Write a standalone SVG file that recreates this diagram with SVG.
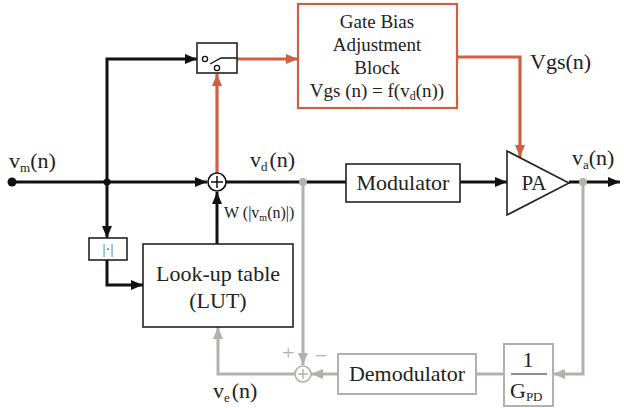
<svg xmlns="http://www.w3.org/2000/svg" width="624" height="408" viewBox="0 0 624 408">
<style>
.t{font-family:'Liberation Serif','DejaVu Serif','Noto Serif',Times,serif;fill:#222}
.box{fill:#fff;stroke:#222;stroke-width:1.6}
.gbox{fill:#fff;stroke:#b5b0ad;stroke-width:2}
.obox{fill:#fff;stroke:#cd6142;stroke-width:2.2}
.k{fill:none;stroke:#111;stroke-width:3}
.o{fill:none;stroke:#cd6142;stroke-width:3.2}
.g{fill:none;stroke:#b5b0ad;stroke-width:3}
</style>
<defs>
<marker id="ak" viewBox="0 0 12 10" refX="12" refY="5" markerWidth="12" markerHeight="10" markerUnits="userSpaceOnUse" orient="auto"><path d="M0,0 L12,5 L0,10 z" fill="#111"/></marker>
<marker id="ao" viewBox="0 0 12 10" refX="12" refY="5" markerWidth="12" markerHeight="10" markerUnits="userSpaceOnUse" orient="auto"><path d="M0,0 L12,5 L0,10 z" fill="#cd6142"/></marker>
<marker id="ag" viewBox="0 0 12 10" refX="12" refY="5" markerWidth="12" markerHeight="10" markerUnits="userSpaceOnUse" orient="auto"><path d="M0,0 L12,5 L0,10 z" fill="#b5b0ad"/></marker>
</defs>
<rect width="624" height="408" fill="#fff"/>
<g id="connectors">
<path class="k" d="M12,182 H207" marker-end="url(#ak)"/>
<path class="k" d="M107,182 V59 H197" marker-end="url(#ak)"/>
<path class="k" d="M107,182 V238" marker-end="url(#ak)"/>
<path class="k" d="M107,260 V285 H143" marker-end="url(#ak)"/>
<path class="k" d="M217,244 V192" marker-end="url(#ak)"/>
<path class="k" d="M226,182 H346"/>
<path class="k" d="M460,182 H507" marker-end="url(#ak)"/>
<path class="k" d="M569,182 H620" marker-end="url(#ak)"/>
<path class="o" d="M217,173 V74" marker-end="url(#ao)"/>
<path class="o" d="M237,59 H298" marker-end="url(#ao)"/>
<path class="o" d="M457,57 H520 V157" marker-end="url(#ao)"/>
<path class="g" d="M303,182 V365" marker-end="url(#ag)"/>
<path class="g" d="M583,182 V374 H553" marker-end="url(#ag)"/>
<path class="g" d="M504,374 H476"/>
<path class="g" d="M338,374 H311" marker-end="url(#ag)"/>
<path class="g" d="M295,374 H218 V327" marker-end="url(#ag)"/>
<circle cx="12" cy="182" r="4.5" fill="#111"/>
<circle cx="107" cy="182" r="3.5" fill="#111"/>
<circle cx="303" cy="182" r="4" fill="#b5b0ad"/>
<circle cx="583" cy="182" r="4" fill="#b5b0ad"/>
</g>
<g id="sum1">
<circle cx="217" cy="182" r="9" fill="#fff" stroke="#111" stroke-width="1.6"/>
<path d="M211,182 H223 M217,176 V188" stroke="#111" stroke-width="1.5"/>
</g>
<g id="switch">
<rect x="197" y="43" width="40" height="30" class="box"/>
<circle cx="205" cy="59" r="2.6" fill="#fff" stroke="#111" stroke-width="1.3"/>
<circle cx="217" cy="68" r="2.6" fill="#fff" stroke="#111" stroke-width="1.3"/>
<path d="M210,64 L221,58 H237" fill="none" stroke="#111" stroke-width="1.4"/>
</g>
<g id="gate">
<rect x="298" y="4" width="159" height="104" class="obox"/>
<text class="t" font-size="19" text-anchor="middle" x="377" y="28">Gate Bias</text>
<text class="t" font-size="19" text-anchor="middle" x="377" y="51">Adjustment</text>
<text class="t" font-size="19" text-anchor="middle" x="377" y="74">Block</text>
<text class="t" font-size="19" text-anchor="middle" x="377" y="97">Vgs (n) = f(v<tspan font-size="12" dy="3">d</tspan><tspan dy="-3">(n))</tspan></text>
</g>
<g id="abs">
<rect x="89" y="238" width="38" height="22" class="box" stroke-width="1.3"/>
<text class="t" font-size="15" text-anchor="middle" x="108" y="254" style="fill:#555">|·|</text>
</g>
<g id="lut">
<rect x="143" y="244" width="150" height="83" class="box"/>
<text class="t" font-size="22" text-anchor="middle" x="218" y="281">Look-up table</text>
<text class="t" font-size="22" text-anchor="middle" x="218" y="308">(LUT)</text>
</g>
<g id="modulator">
<rect x="346" y="164" width="114" height="38" class="box"/>
<text class="t" font-size="22" text-anchor="middle" x="403" y="190">Modulator</text>
</g>
<g id="pa">
<path d="M507,151 L569,183 L507,215 z" class="box"/>
<text class="t" font-size="21" text-anchor="middle" x="534" y="190">PA</text>
</g>
<g id="sum2">
<circle cx="303" cy="374" r="8" fill="#fff" stroke="#b5b0ad" stroke-width="1.6"/>
<path d="M298,374 H308 M303,369 V379" stroke="#b5b0ad" stroke-width="1.4"/>
<text class="t" font-size="22" x="282" y="360" style="fill:#b5b0ad">+</text>
<text class="t" font-size="22" x="315" y="363" style="fill:#b5b0ad">−</text>
</g>
<g id="demodulator">
<rect x="338" y="354" width="138" height="40" class="gbox"/>
<text class="t" font-size="22" text-anchor="middle" x="407" y="381">Demodulator</text>
</g>
<g id="gain">
<rect x="504" y="344" width="49" height="62" class="gbox"/>
<text class="t" font-size="22" text-anchor="middle" x="528" y="367">1</text>
<path d="M511,374 H547" stroke="#222" stroke-width="1.2"/>
<text class="t" font-size="22" x="510" y="398">G<tspan font-size="13" dy="3">PD</tspan></text>
</g>
<g id="labels">
<text class="t" font-size="22" x="9" y="168">v<tspan font-size="13" dy="4">m</tspan><tspan dy="-4">(n)</tspan></text>
<text class="t" font-size="22" x="250" y="167">v<tspan font-size="13" dy="4">d</tspan><tspan dy="-4" dx="2">(n)</tspan></text>
<text class="t" font-size="22" x="572" y="165">v<tspan font-size="13" dy="4">a</tspan><tspan dy="-4">(n)</tspan></text>
<text class="t" font-size="22" x="530" y="69">Vgs(n)</text>
<text class="t" font-size="16" x="224" y="218">W (|v<tspan font-size="10" dy="3">m</tspan><tspan dy="-3">(n)|)</tspan></text>
<text class="t" font-size="22" x="213" y="398">v<tspan font-size="13" dy="4">e</tspan><tspan dy="-4" dx="2">(n)</tspan></text>
</g>
</svg>
